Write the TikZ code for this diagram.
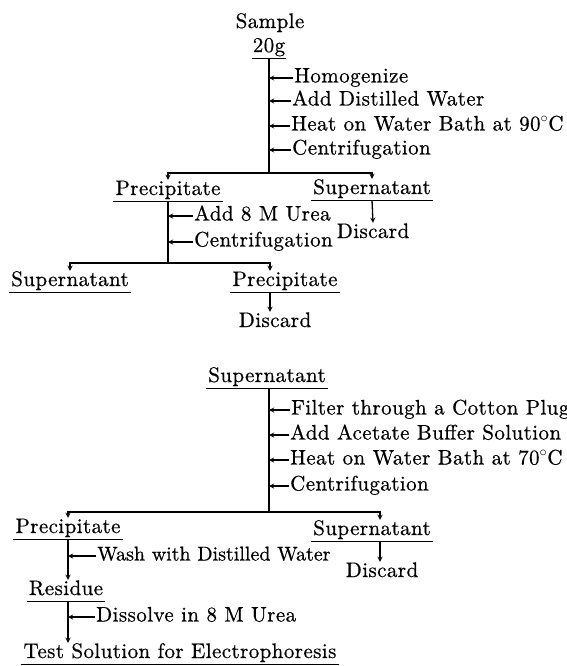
\documentclass[tikz,border=0pt]{standalone}
\usepackage{fontspec}
\setmainfont{lmroman10-regular.otf}[LetterSpace=2, FakeBold=0.6]
\newfontfamily\tightfont{lmroman10-regular.otf}[FakeBold=0.6]
\usetikzlibrary{arrows}

\tikzset{every node/.style={font=\fontsize{21}{25}\selectfont, text height=14pt, text depth=5pt, inner ysep=1pt},
    plain/.style={anchor=base, inner xsep=2pt},
    stage/.style={anchor=base, inner xsep=2pt,
        append after command={(\tikzlastnode.south west) edge[line width=1pt] (\tikzlastnode.south east)}},
    steptext/.style={anchor=west, inner xsep=1pt},
    flow/.style={line width=1.3pt},
    arr/.style={line width=1.3pt, -stealth}}

\begin{document}
\begin{tikzpicture}[x=1pt, y=-1pt]
\useasboundingbox (0,0) rectangle (567,666);
% sample
\node[plain] (sample) at (270,28) {Sample};
\node[stage, inner xsep=1pt] (s20) at (269,52) {20g};
\coordinate (b1) at (269,173);
\node[steptext] (hom) at (293,78) {Homogenize};
\node[steptext] (adw) at (291,101) {Add Distilled Water};
\node[steptext] (heat1) at (290,126) {Heat on Water Bath at 90$^\circ$C};
\node[steptext] (cen1) at (291,150) {Centrifugation};
\draw[flow] (s20.south) -- (b1);
\foreach \s in {hom, adw, heat1, cen1}
    \draw[arr] (\s.west) -- (\s.west -| b1);
\node[stage] (pre1) at (168,195) {Precipitate};
\node[stage] (sup1) at (372,194) {Supernatant};
\node[plain] (dis1) at (373,238) {Discard};
\draw[arr] (b1) -| (pre1.north);
\draw[arr] (b1) -| (sup1.north);
\draw[arr] (sup1.south) -- (dis1.north);

% precipitate, urea
\coordinate (b2) at (168,263);
\coordinate (c2) at (270,263);
\node[steptext] (urea1) at (193,216) {Add 8 M Urea};
\node[steptext] (cen2) at (193,242) {Centrifugation};
\draw[flow] (pre1.south) -- (b2);
\foreach \s in {urea1, cen2}
    \draw[arr] (\s.west) -- (\s.west -| b2);
\node[stage] (sup2) at (70,286) {Supernatant};
\node[stage] (pre2) at (285,286) {Precipitate};
\node[plain] (dis2) at (275,327) {Discard};
\draw[arr] (b2) -| (sup2.north);
\draw[arr] (b2) -- (c2) -- (c2 |- pre2.north);
\draw[arr] (c2 |- pre2.south) -- (c2 |- dis2.north);

% supernatant
\node[stage] (sup3) at (267,382) {Supernatant};
\coordinate (b3) at (269,512);
\coordinate (c3) at (380,512);
\node[steptext] (filt) at (290,410) {Filter through a Cotton Plug};
\node[steptext] (acet) at (289,435) {Add Acetate Buffer Solution};
\node[steptext] (heat2) at (289,460) {Heat on Water Bath at 70$^\circ$C};
\node[steptext] (cen3) at (289,486) {Centrifugation};
\draw[flow] (sup3.south -| b3) -- (b3);
\foreach \s in {filt, acet, heat2, cen3}
    \draw[arr] (\s.west) -- (\s.west -| b3);
\node[stage] (pre3) at (68,533) {Precipitate};
\node[stage] (sup4) at (372,535) {Supernatant};
\node[plain] (dis3) at (382,577) {Discard};
\draw[arr] (b3) -| (pre3.north);
\draw[arr] (b3) -- (c3) -- (c3 |- sup4.north);
\draw[arr] (c3 |- sup4.south) -- (c3 |- dis3.north);

% residue
\node[steptext, font={\tightfont\fontsize{20}{24}\selectfont}] (wash) at (96,556) {Wash with Distilled Water};
\node[stage] (res) at (66,595) {Residue};
\node[steptext] (diss) at (95,617) {Dissolve in 8 M Urea};
\node[stage] (test) at (180,658) {Test Solution for Electrophoresis};
\draw[arr] (pre3.south) -- (pre3.south |- res.north);
\draw[arr] (pre3.south |- res.south) -- (pre3.south |- test.north);
\draw[arr] (wash.west) -- (wash.west -| pre3.south);
\draw[arr] (diss.west) -- (diss.west -| pre3.south);

\end{tikzpicture}
\end{document}
